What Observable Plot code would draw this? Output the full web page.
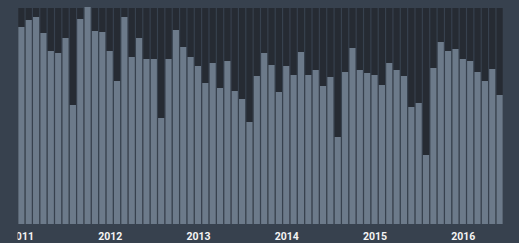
<!DOCTYPE html>
<html>
<head>
<meta charset="utf-8">
<script src="https://cdn.jsdelivr.net/npm/d3@7"></script>
<script src="https://cdn.jsdelivr.net/npm/@observablehq/plot@0.6"></script>
<style>
  html, body { margin: 0; padding: 0; background: #37414e; }
  #chart { width: 519px; height: 243px; overflow: hidden; }
</style>
</head>
<body>
<div id="chart"></div>
<script>
// Tick labels (one per January)
const years = ["2011", "2012", "2013", "2014", "2015", "2016"];
// Monthly values, Jan 2011 – Jun 2016
const values = [
  197, 204, 207, 191, 173, 171, 186, 119, 205, 217, 193, 192,
  173, 143, 207, 167, 186, 165, 165, 106, 165, 194, 177, 167,
  158, 141, 161, 136, 163, 133, 125, 102, 148, 171, 159, 132,
  158, 149, 172, 149, 154, 138, 147, 87, 152, 176, 154, 151,
  149, 139, 161, 154, 148, 117, 121, 69, 156, 182, 173, 175,
  165, 163, 152, 143, 155, 129
];
const yMax = 216;

const monthNames = ["01","02","03","04","05","06","07","08","09","10","11","12"];
const months = years.flatMap(y => monthNames.map(m => `${y}-${m}`)).slice(0, values.length);
const data = months.map((month, i) => ({month, value: values[i]}));
const janTicks = years.map(y => `${y}-01`);

const chart = Plot.plot({
  width: 519,
  height: 243,
  marginLeft: 18,
  marginRight: 16,
  marginTop: 8,
  marginBottom: 19,
  style: {background: "#37414e", color: "#f2f2f2", fontFamily: "Roboto, sans-serif"},
  x: {domain: months, paddingInner: 0.16, paddingOuter: 0.04, round: false, axis: null},
  y: {domain: [0, yMax], axis: null},
  marks: [
    Plot.barY(data, {x: "month", y1: 0, y2: yMax, fill: "#262b33"}),
    Plot.barY(data, {x: "month", y: "value", fill: "#6c7a8a"}),
    Plot.axisX({
      ticks: janTicks,
      tickFormat: d => d.slice(0, 4),
      tickSize: 0,
      tickPadding: 8,
      fontSize: 10.5,
      fontWeight: "bold",
      fill: "#f4f4f4",
      label: null
    })
  ]
});
document.getElementById("chart").appendChild(chart);

// The original picture crops the first label at the left edge
const svg = d3.select(chart);
const defs = svg.append("defs");
defs.append("clipPath").attr("id", "axisclip")
  .append("rect").attr("x", 14).attr("y", 0).attr("width", 519).attr("height", 243);
svg.selectAll("g[aria-label='x-axis tick label']").attr("clip-path", "url(#axisclip)");
</script>
</body>
</html>
